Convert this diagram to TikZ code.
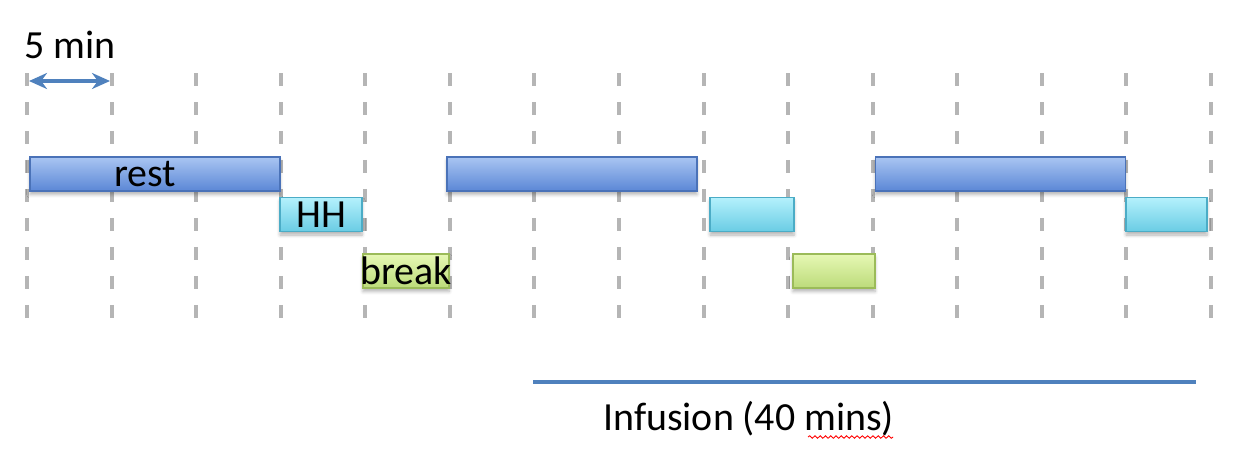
\documentclass[tikz,border=0pt]{standalone}
\usepackage{fontspec}
\setmainfont{Carlito}
\usetikzlibrary{arrows.meta,shadows.blur,decorations.pathmorphing}
\definecolor{primary}{HTML}{4F81BD}
\definecolor{restedge}{HTML}{4A72B8}
\definecolor{resttop}{HTML}{A9C5F2}
\definecolor{restbot}{HTML}{5B87D6}
\definecolor{hhedge}{HTML}{4BACC6}
\definecolor{hhtop}{HTML}{B4F1FC}
\definecolor{hhbot}{HTML}{6ACCE4}
\definecolor{brkedge}{HTML}{9BBB59}
\definecolor{brktop}{HTML}{E6F8B4}
\definecolor{brkbot}{HTML}{BCDB7A}
\definecolor{gridgray}{HTML}{B5B5B5}

\begin{document}
\begin{tikzpicture}[x=0.02cm, y=-0.02cm,
  slot/.style={rectangle, draw, line width=0.9pt, minimum height=0.68cm, inner sep=0pt,
    blur shadow={shadow blur steps=5, shadow xshift=0mm, shadow yshift=-0.7mm, shadow opacity=30}},
  restbar/.style={slot, minimum width=5cm, draw=restedge, top color=resttop, bottom color=restbot},
  hhbar/.style={slot, minimum width=#1, draw=hhedge, top color=hhtop, bottom color=hhbot},
  brkbar/.style={slot, minimum width=#1, draw=brkedge, top color=brktop, bottom color=brkbot},
  txt/.style={font=\fontsize{22.7}{27}\selectfont, inner sep=0pt},
  gridline/.style={gridgray, line width=2.3pt, dash pattern=on 0.26cm off 0.32cm},
  arr/.style={{Stealth[length=3.6mm, width=3.2mm]}-{Stealth[length=3.6mm, width=3.2mm]}, line width=2.2pt, primary}
]
  \useasboundingbox (0,0) rectangle (1256,468);

  % time grid, one line every 5 min
  \foreach \i in {0,...,14}
    \draw[gridline] (27+84.57*\i,73) -- (27+84.57*\i,320);

  % scale
  \node[txt, anchor=base west] (fivemin) at (24,58) {5 min};
  \coordinate (scaleL) at (29,81);
  \coordinate (scaleR) at (110,81);
  \draw[arr] (scaleL) -- (scaleR);

  % first cycle
  \node[restbar, label={[txt, xshift=-0.2cm]center:rest}] (rest1) at (155,174) {};
  \node[hhbar=1.64cm, label={[txt]center:HH}] (hh1) at (321,214.5) {};
  \node[brkbar=1.72cm, label={[txt]center:break}] (brk1) at (406,271) {};

  % second cycle
  \node[restbar] (rest2) at (572,174) {};
  \node[hhbar=1.68cm] (hh2) at (752,214.5) {};
  \node[brkbar=1.64cm] (brk2) at (834,271) {};

  % third cycle
  \node[restbar] (rest3) at (1000.5,174) {};
  \node[hhbar=1.62cm] (hh3) at (1166.5,214.5) {};

  % infusion
  \coordinate (infL) at (533,382);
  \coordinate (infR) at (1196,382);
  \draw[primary, line width=2.3pt] (infL) -- (infR);
  \node[txt, anchor=base west] (inflbl) at (603,430) {Infusion (40 mins)};
  \draw[red, line width=0.5pt, decorate, decoration={snake, amplitude=0.7pt, segment length=3pt}]
    (808,437) -- (893,437);
\end{tikzpicture}
\end{document}
